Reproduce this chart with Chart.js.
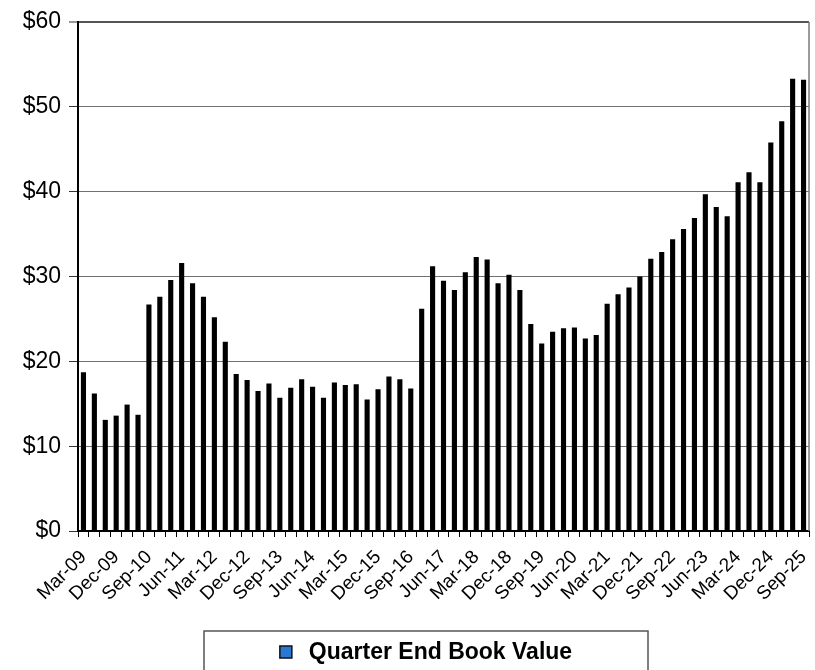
<!DOCTYPE html>
<html>
<head>
<meta charset="utf-8">
<script src="https://cdn.jsdelivr.net/npm/chart.js@4.4.1/dist/chart.umd.min.js"></script>
<style>
  html, body { margin: 0; padding: 0; background: #ffffff; }
  #wrap { width: 815px; height: 670px; position: relative; }
</style>
</head>
<body>
<div id="wrap"><canvas id="bookChart" width="815" height="670"></canvas></div>
<script>
// Quarter-end dates, one bar each
const quarters = [
  'Mar-09','Jun-09','Sep-09','Dec-09',
  'Mar-10','Jun-10','Sep-10','Dec-10',
  'Mar-11','Jun-11','Sep-11','Dec-11',
  'Mar-12','Jun-12','Sep-12','Dec-12',
  'Mar-13','Jun-13','Sep-13','Dec-13',
  'Mar-14','Jun-14','Sep-14','Dec-14',
  'Mar-15','Jun-15','Sep-15','Dec-15',
  'Mar-16','Jun-16','Sep-16','Dec-16',
  'Mar-17','Jun-17','Sep-17','Dec-17',
  'Mar-18','Jun-18','Sep-18','Dec-18',
  'Mar-19','Jun-19','Sep-19','Dec-19',
  'Mar-20','Jun-20','Sep-20','Dec-20',
  'Mar-21','Jun-21','Sep-21','Dec-21',
  'Mar-22','Jun-22','Sep-22','Dec-22',
  'Mar-23','Jun-23','Sep-23','Dec-23',
  'Mar-24','Jun-24','Sep-24','Dec-24',
  'Mar-25','Jun-25','Sep-25'
];

// Book value per share at each quarter end ($)
const bookValue = [
  18.7, 16.2, 13.1, 13.6,
  14.9, 13.7, 26.7, 27.6,
  29.6, 31.6, 29.2, 27.6,
  25.2, 22.3, 18.5, 17.8,
  16.5, 17.4, 15.7, 16.9,
  17.9, 17.0, 15.7, 17.5,
  17.2, 17.3, 15.5, 16.7,
  18.2, 17.9, 16.8, 26.2,
  31.2, 29.5, 28.4, 30.5,
  32.3, 32.0, 29.2, 30.2,
  28.4, 24.4, 22.1, 23.5,
  23.9, 24.0, 22.7, 23.1,
  26.8, 27.9, 28.7, 30.0,
  32.1, 32.9, 34.4, 35.6,
  36.9, 39.7, 38.2, 37.1,
  41.1, 42.3, 41.1, 45.8,
  48.3, 53.3, 53.2
];

// Category labels printed under the axis (every third quarter)
const axisLabels = [
  'Mar-09','Dec-09','Sep-10','Jun-11','Mar-12','Dec-12','Sep-13','Jun-14',
  'Mar-15','Dec-15','Sep-16','Jun-17','Mar-18','Dec-18','Sep-19','Jun-20',
  'Mar-21','Dec-21','Sep-22','Jun-23','Mar-24','Dec-24','Sep-25'
];

// Value axis
const yTicks = [0, 10, 20, 30, 40, 50, 60];
const seriesName = 'Quarter End Book Value';

const FONT = "'Liberation Sans', Arial, Helvetica, sans-serif";

// Right edge of the plot frame and the boxed legend under the axis
const framePlugin = {
  id: 'frameAndLegend',
  afterDraw(chart) {
    const { ctx, chartArea: a } = chart;
    ctx.save();
    ctx.strokeStyle = '#7a7a7a';
    ctx.lineWidth = 1.5;
    ctx.beginPath();
    ctx.moveTo(a.right, a.top);
    ctx.lineTo(a.right, a.bottom);
    ctx.stroke();

    // legend box
    const box = { left: 204, right: 648, top: 631, bottom: 675 };
    ctx.strokeStyle = '#555555';
    ctx.lineWidth = 1.5;
    ctx.strokeRect(box.left, box.top, box.right - box.left, box.bottom - box.top);

    ctx.font = 'bold 23px ' + FONT;
    const textW = ctx.measureText(seriesName).width;
    const swatch = 12, gap = 17;
    const totalW = swatch + gap + textW;
    const startX = (box.left + box.right) / 2 - totalW / 2;
    const cy = 652;
    ctx.fillStyle = '#2a78d4';
    ctx.fillRect(startX, cy - swatch / 2, swatch, swatch);
    ctx.strokeStyle = '#111111';
    ctx.lineWidth = 1.5;
    ctx.strokeRect(startX, cy - swatch / 2, swatch, swatch);
    ctx.fillStyle = '#000000';
    ctx.textBaseline = 'middle';
    ctx.textAlign = 'left';
    ctx.fillText(seriesName, startX + swatch + gap, cy + 1);
    ctx.restore();
  }
};

new Chart(document.getElementById('bookChart'), {
  type: 'bar',
  data: {
    labels: quarters,
    datasets: [{
      label: seriesName,
      data: bookValue,
      backgroundColor: '#000000',
      borderWidth: 0,
      barPercentage: 0.47,
      categoryPercentage: 1.0
    }]
  },
  options: {
    responsive: false,
    animation: false,
    devicePixelRatio: 1,
    layout: { padding: { left: 0, right: 6, top: 22, bottom: 0 } },
    plugins: {
      legend: { display: false },
      tooltip: { enabled: false },
      title: { display: false }
    },
    scales: {
      x: {
        type: 'category',
        offset: true,
        grid: {
          display: true,
          drawOnChartArea: false,
          drawTicks: true,
          offset: true,
          tickLength: 6,
          tickColor: '#000000',
          tickWidth: 1
        },
        border: { display: true, color: '#000000', width: 2 },
        ticks: {
          autoSkip: false,
          maxRotation: 45,
          minRotation: 45,
          padding: 9,
          color: '#000000',
          font: { family: FONT, size: 19 },
          callback(value, index) {
            const q = quarters[index];
            return axisLabels.includes(q) ? q : '';
          }
        },
        afterFit(scale) {
          scale.height = 139;
          scale.paddingLeft = 0;
          scale.paddingRight = 0;
        }
      },
      y: {
        min: yTicks[0],
        max: yTicks[yTicks.length - 1],
        afterBuildTicks(scale) {
          scale.ticks = yTicks.map(v => ({ value: v }));
        },
        grid: {
          color(ctx) { return ctx.tick && ctx.tick.value === 60 ? '#555555' : '#707070'; },
          lineWidth(ctx) { return ctx.tick && ctx.tick.value === 60 ? 2 : 1; },
          drawTicks: true,
          tickLength: 9,
          tickColor: '#333333',
          tickWidth: 1
        },
        border: { display: true, color: '#000000', width: 2 },
        ticks: {
          padding: 8,
          color: '#000000',
          font: { family: FONT, size: 23 },
          callback(v) { return '$' + v; }
        },
        afterFit(scale) {
          scale.width = 78;
        }
      }
    }
  },
  plugins: [framePlugin]
});
</script>
</body>
</html>
